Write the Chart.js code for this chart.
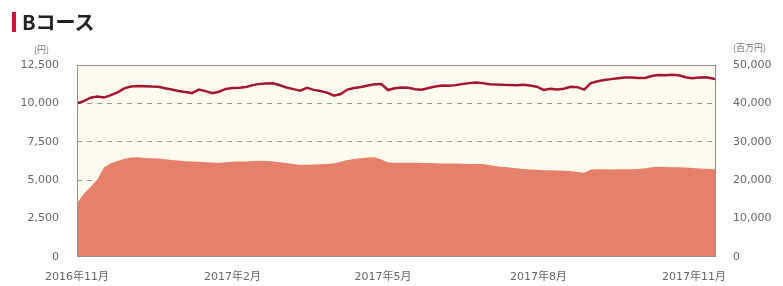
<!DOCTYPE html>
<html>
<head>
<meta charset="utf-8">
<script src="https://cdn.jsdelivr.net/npm/chart.js@4/dist/chart.umd.min.js"></script>
<style>
  html, body { margin: 0; padding: 0; background: #ffffff; }
  #wrap { position: relative; width: 783px; height: 286px; overflow: hidden; }
  #title { position: absolute; left: 12px; top: 12px; height: 20px; padding-left: 6px;
    border-left: 4px solid #c8193a; font: bold 20px 'Noto Sans CJK JP', sans-serif; line-height: 20px; color: #222; }
  .unit { position: absolute; font: 9px 'Noto Sans CJK JP', sans-serif; color: #777; }
  #unitL { left: 34px; top: 43px; }
  #unitR { left: 733px; top: 41px; }
  canvas { position: absolute; left: 0; top: 0; }
</style>
</head>
<body>
<div id="wrap">
  <canvas id="c" width="783" height="286"></canvas>
  <div id="title">Bコース</div>
  <div class="unit" id="unitL">(円)</div>
  <div class="unit" id="unitR">(百万円)</div>
</div>
<script>
// ---- data ----
const dates = [
  '2016-11-01','2016-11-05','2016-11-09','2016-11-13','2016-11-17','2016-11-21','2016-11-25','2016-11-29',
  '2016-12-03','2016-12-07','2016-12-11','2016-12-15','2016-12-19','2016-12-23','2016-12-27','2016-12-31',
  '2017-01-04','2017-01-08','2017-01-12','2017-01-16','2017-01-20','2017-01-24','2017-01-28',
  '2017-02-01','2017-02-05','2017-02-09','2017-02-13','2017-02-17','2017-02-21','2017-02-25',
  '2017-03-01','2017-03-05','2017-03-09','2017-03-13','2017-03-17','2017-03-21','2017-03-25','2017-03-29',
  '2017-04-02','2017-04-06','2017-04-10','2017-04-14','2017-04-18','2017-04-22','2017-04-26','2017-04-30',
  '2017-05-04','2017-05-08','2017-05-12','2017-05-16','2017-05-20','2017-05-24','2017-05-28',
  '2017-06-01','2017-06-05','2017-06-09','2017-06-13','2017-06-17','2017-06-21','2017-06-25','2017-06-29',
  '2017-07-03','2017-07-07','2017-07-11','2017-07-15','2017-07-19','2017-07-23','2017-07-27','2017-07-31',
  '2017-08-04','2017-08-08','2017-08-12','2017-08-16','2017-08-20','2017-08-24','2017-08-28',
  '2017-09-01','2017-09-05','2017-09-09','2017-09-13','2017-09-17','2017-09-21','2017-09-25','2017-09-29',
  '2017-10-03','2017-10-07','2017-10-11','2017-10-15','2017-10-19','2017-10-23','2017-10-27','2017-10-31',
  '2017-11-04','2017-11-08','2017-11-12','2017-11-14'
];
// 基準価額 (円)
const basePrice = [
  10000,10150,10370,10450,10380,10540,10720,10980,
  11100,11130,11120,11100,11090,10990,10900,10810,
  10740,10670,10900,10800,10660,10760,10940,
  11000,11020,11070,11190,11270,11290,11310,
  11180,11030,10930,10830,11010,10880,10810,10700,
  10500,10610,10900,11000,11070,11160,11240,11260,
  10870,10990,11030,11020,10920,10890,11000,
  11100,11160,11150,11190,11260,11320,11360,11320,
  11250,11230,11210,11200,11180,11220,11170,11090,
  10880,10960,10910,10960,11080,11060,10900,
  11320,11440,11520,11580,11640,11680,11690,11650,
  11660,11780,11850,11840,11860,11830,11700,11640,
  11690,11700,11620,11570
];
// 純資産総額 (百万円)
const netAssets = [
  14000,16500,18200,20200,23300,24400,25000,25600,
  25900,25950,25800,25700,25650,25450,25250,25100,
  24950,24850,24800,24700,24600,24550,24650,
  24800,24850,24900,25000,25050,25000,24900,
  24700,24450,24200,23960,24000,24100,24180,24220,
  24400,24800,25250,25500,25700,25900,25950,25400,
  24600,24560,24560,24560,24520,24500,24450,
  24400,24380,24350,24320,24280,24250,24230,24220,
  23950,23650,23450,23300,23100,22900,22800,22700,
  22620,22560,22500,22480,22400,22150,21950,
  22800,22850,22850,22800,22850,22850,22820,22900,
  23100,23400,23520,23450,23400,23380,23330,23200,
  23050,22950,22870,22840
];
const xTickDates  = ['2016-11-01','2017-02-01','2017-05-01','2017-08-01','2017-11-01'];
const xTickLabels = ['2016年11月','2017年2月','2017年5月','2017年8月','2017年11月'];

// ---- helpers ----
const DAY = 86400000;
const t0 = Date.parse(dates[0] + 'T00:00:00Z');
const dayOf = d => Math.round((Date.parse(d + 'T00:00:00Z') - t0) / DAY);
const xs = dates.map(dayOf);
const tickDays = xTickDates.map(dayOf);
const fmt = v => Number(v).toLocaleString('en-US');

const FONT = "'DejaVu Sans', 'Noto Sans CJK JP', sans-serif";

const plotDeco = {
  id: 'plotDeco',
  beforeDraw(chart) {
    const {ctx, chartArea: a} = chart;
    ctx.save();
    ctx.fillStyle = '#fdfbee';
    ctx.fillRect(a.left, a.top, a.right - a.left, a.bottom - a.top);
    ctx.restore();
  },
  afterDatasetsDraw(chart) {
    const {ctx, chartArea: a} = chart;
    ctx.save();
    ctx.strokeStyle = '#8f8f8f';
    ctx.lineWidth = 1;
    ctx.strokeRect(Math.round(a.left) + 0.5, Math.round(a.top) + 0.5,
      Math.round(a.right - a.left) - 1, Math.round(a.bottom - a.top) - 1);
    ctx.restore();
  }
};

new Chart(document.getElementById('c'), {
  type: 'line',
  data: {
    datasets: [
      {
        label: '基準価額',
        data: xs.map((x, i) => ({x, y: basePrice[i]})),
        yAxisID: 'y',
        borderColor: '#a3172f',
        borderWidth: 2.5,
        pointRadius: 0,
        tension: 0,
        fill: false
      },
      {
        label: '純資産総額',
        data: xs.map((x, i) => ({x, y: netAssets[i]})),
        yAxisID: 'y1',
        borderColor: '#e5806b',
        borderWidth: 0,
        backgroundColor: '#e5806b',
        pointRadius: 0,
        tension: 0,
        fill: 'origin'
      }
    ]
  },
  options: {
    responsive: false,
    animation: false,
    events: [],
    layout: { padding: { top: 65, left: 0, right: 0, bottom: 0 } },
    plugins: { legend: { display: false }, tooltip: { enabled: false }, title: { display: false } },
    scales: {
      x: {
        type: 'linear',
        min: xs[0],
        max: xs[xs.length - 1],
        afterBuildTicks: s => { s.ticks = tickDays.map(v => ({value: v})); },
        afterFit: s => { s.height = 29; },
        grid: { display: false, drawTicks: false },
        border: { display: false },
        ticks: {
          autoSkip: false, maxRotation: 0, padding: 14,
          color: '#666', font: { family: FONT, size: 11 },
          callback: v => xTickLabels[tickDays.indexOf(v)]
        }
      },
      y: {
        position: 'left',
        min: 0, max: 12500,
        afterFit: s => { s.width = 77; },
        grid: {
          drawTicks: false,
          color: c => (c.tick.value === 0 || c.tick.value === 12500) ? 'rgba(0,0,0,0)' : '#9a9a9a',
          lineWidth: 1
        },
        border: { display: false, dash: [5, 5] },
        ticks: { stepSize: 2500, padding: 18, color: '#666', font: { family: FONT, size: 11 }, callback: fmt }
      },
      y1: {
        position: 'right',
        min: 0, max: 50000,
        afterFit: s => { s.width = 67; },
        grid: { display: false, drawTicks: false },
        border: { display: false },
        ticks: { stepSize: 10000, padding: 17, color: '#666', font: { family: FONT, size: 11 }, callback: fmt }
      }
    }
  },
  plugins: [plotDeco]
});
</script>
</body>
</html>
